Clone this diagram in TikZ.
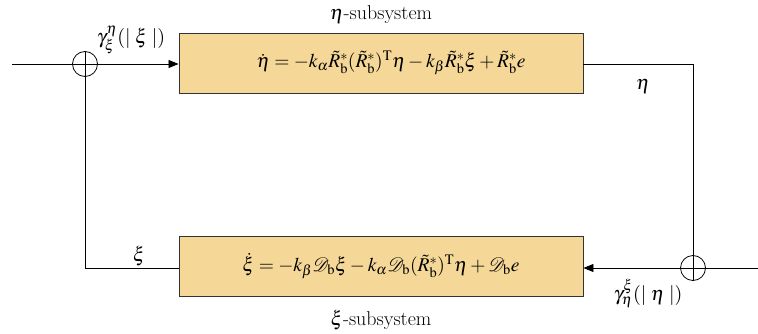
\documentclass[tikz,border=0pt]{standalone}
\usepackage{fontspec}
\setmainfont{Liberation Serif}
\usepackage{mathptmx}
\usetikzlibrary{arrows.meta}
\definecolor{boxfill}{HTML}{F5D898}
\begin{document}
\begin{tikzpicture}[x=1pt,y=-1pt,
  sysbox/.style={draw=black!80,fill=boxfill,line width=0.9pt,minimum width=404pt,minimum height=60pt,inner sep=0pt},
  sumnode/.style={draw,circle,minimum size=25pt,inner sep=0pt,line width=0.8pt},
  wire/.style={line width=0.8pt},
  arr/.style={wire,-{Triangle[length=10pt,width=8pt]}},
  lbl/.style={inner sep=0pt,font=\fontsize{20}{24}\selectfont},
  eqn/.style={inner sep=0pt,font=\fontsize{19.5}{22}\selectfont}]
\useasboundingbox (0,0) rectangle (758,334);
\node[sysbox] (top) at (381,63) {};
\node[eqn] (eqtop) at (391,63) {$\dot\eta=-k_\alpha\tilde R_{\mathrm b}^{*}(\tilde R_{\mathrm b}^{*})^{\mathrm T}\eta-k_\beta\tilde R_{\mathrm b}^{*}\xi+\tilde R_{\mathrm b}^{*}e$};
\node[sysbox] (bot) at (381,266) {};
\node[eqn] (eqbot) at (381,266) {$\dot\xi=-k_\beta\mathcal D_{\mathrm b}\xi-k_\alpha\mathcal D_{\mathrm b}(\tilde R_{\mathrm b}^{*})^{\mathrm T}\eta+\mathcal D_{\mathrm b}e$};
\node[sumnode] (s1) at (85,64) {};
\node[sumnode] (s2) at (693,268) {};
\draw[wire] (s1.north)--(s1.south) (s1.west)--(s1.east);
\draw[wire] (s2.north)--(s2.south) (s2.west)--(s2.east);
\coordinate (in1) at (12,64);
\coordinate (in2) at (758,268);
\coordinate (c1) at (693,64);
\coordinate (c2) at (85,268);
\draw[wire] (in1)--(s1.west);
\draw[arr] (s1.east)--(top.west|-s1.east);
\draw[wire] (top.east|-c1)--(c1)--(s2.north);
\draw[wire] (in2)--(s2.east);
\draw[arr] (s2.west)--(bot.east|-s2.west);
\draw[wire] (bot.west|-c2)--(c2)--(s1.south);
\node[lbl] (t1) at (381,15) {$\eta$-subsystem};
\node[lbl] (t2) at (381,320) {$\xi$-subsystem};
\node[lbl] (g1) at (131,40) {$\gamma_\xi^\eta(|\;\xi\;|)$};
\node[lbl] (g2) at (648,293) {$\gamma_\eta^\xi(|\;\eta\;|)$};
\node[lbl] (e1) at (643,86) {$\eta$};
\node[lbl] (x1) at (139,256) {$\xi$};
\end{tikzpicture}
\end{document}
